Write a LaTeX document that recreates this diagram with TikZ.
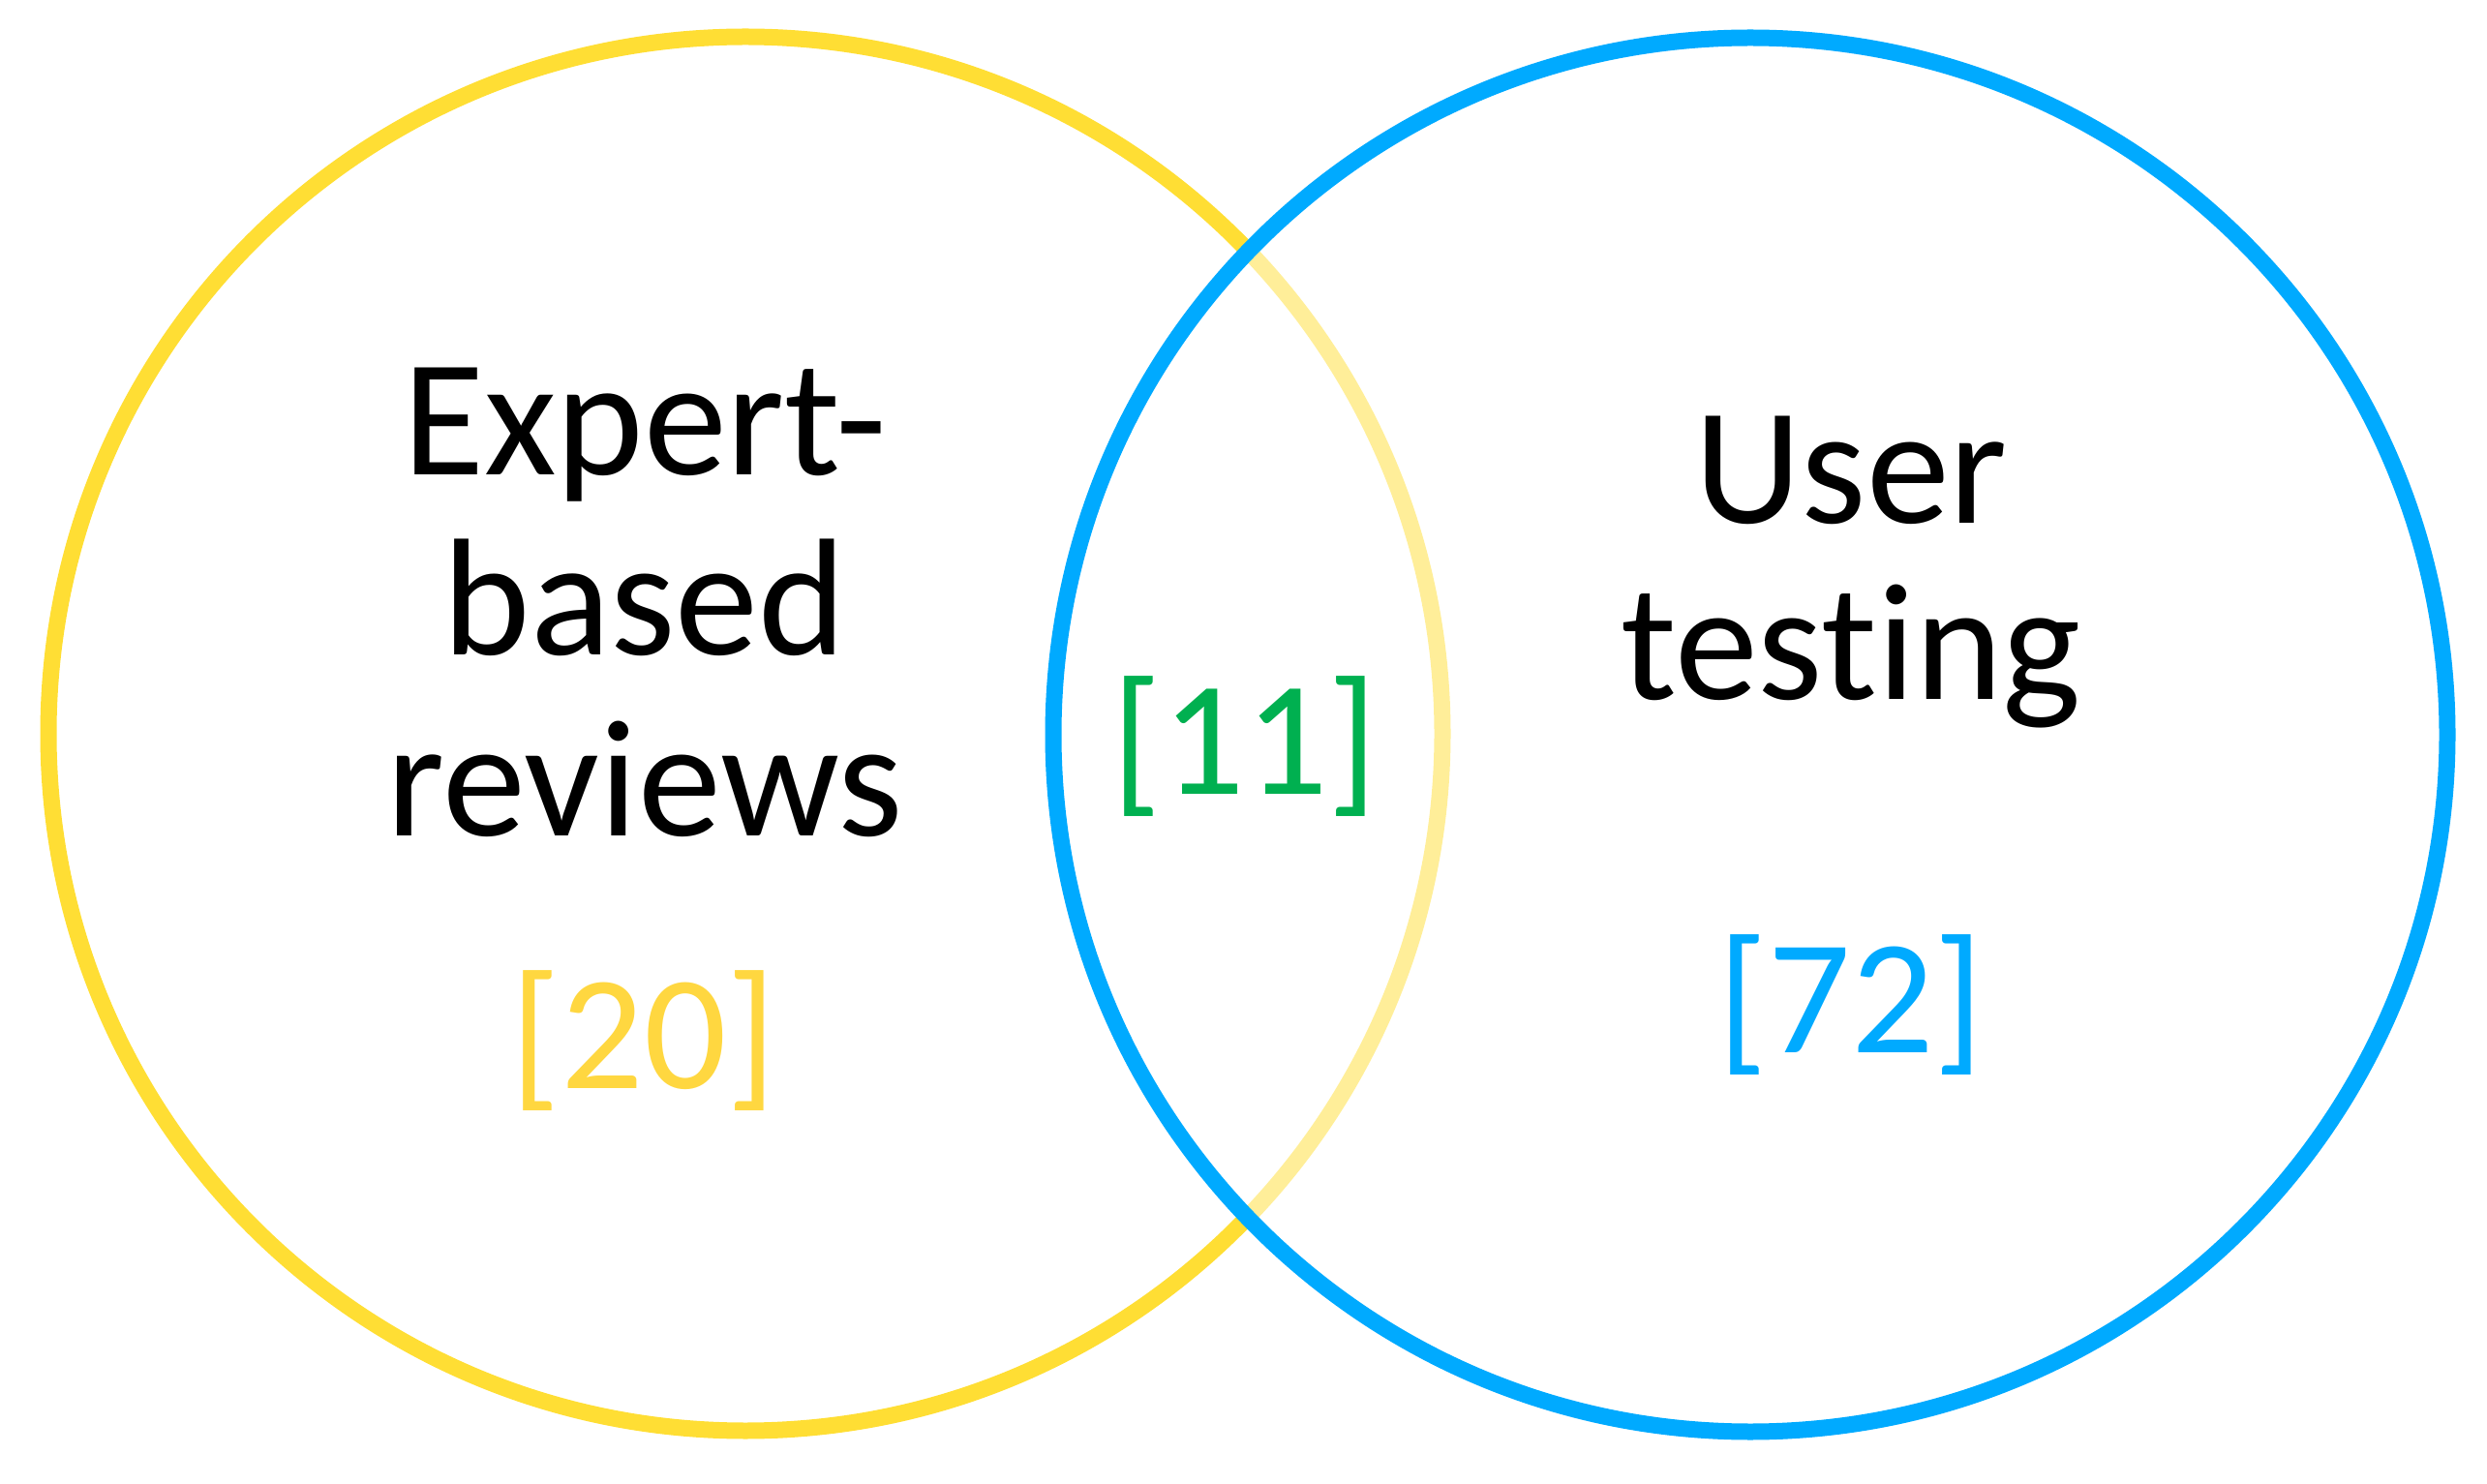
\documentclass[tikz,border=0pt]{standalone}
\usepackage{fontspec}
\setmainfont{Carlito}[Ligatures={NoCommon}]
\definecolor{vennyellow}{RGB}{255,222,52}
\definecolor{numyellow}{RGB}{255,215,64}
\definecolor{vennblue}{RGB}{0,170,255}
\definecolor{venngreen}{RGB}{0,176,80}

\begin{document}
\begin{tikzpicture}[
  setcircle/.style={circle, draw, line width=0.17cm, minimum size=14.4cm, inner sep=0pt},
  settext/.style={font=\fontsize{49}{53}\selectfont, align=center, anchor=base, inner sep=0pt},
  setcount/.style={font=\fontsize{48}{52}\selectfont, anchor=base, inner sep=0pt}]
\useasboundingbox (0,0) rectangle (25.69,15.32);

\node [setcircle, vennyellow] (expert) at (7.70,7.74) {};
\node [setcircle, vennblue, fill=white, fill opacity=0.5] (user) at (18.08,7.73) {};

% base of a multi-line node = last line
\node [settext] (experttxt) at (6.66,6.69) {Expert-\\based\\reviews};
\node [settext, font=\fontsize{49}{52}\selectfont] (usertxt) at (19.12,8.09) {User\\testing};

\node [setcount, numyellow] (n20) at (6.65,4.08) {[20]};
\node [setcount, venngreen] (n11) at (12.86,7.12) {[11]};
\node [setcount, vennblue] (n72) at (19.12,4.45) {[72]};

\end{tikzpicture}
\end{document}
